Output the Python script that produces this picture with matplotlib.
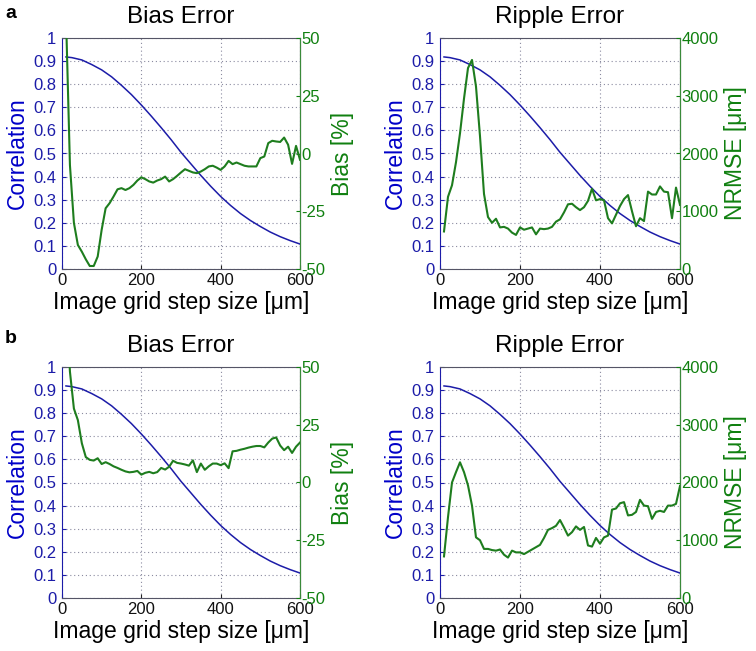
import matplotlib.pyplot as plt

plt.rcParams['font.family'] = ['Liberation Sans', 'DejaVu Sans']

BLUE = '#1c1ca8'
BLUE_TXT = '#0000c8'
GREEN = '#1e7d1e'
GREEN_TXT = '#108010'

# correlation curve (same in all four panels)
corr_x = [10, 25, 50, 75, 100, 125, 150, 175, 200, 225, 250, 275, 300,
          325, 350, 375, 400, 425, 450, 475, 500, 525, 550, 575, 600]
corr_y = [0.918, 0.915, 0.905, 0.885, 0.862, 0.832, 0.795, 0.755, 0.710,
          0.662, 0.612, 0.560, 0.505, 0.455, 0.405, 0.358, 0.314, 0.275,
          0.240, 0.210, 0.184, 0.160, 0.140, 0.123, 0.108]

step = list(range(10, 601, 10))

# a: bias [%]
bias_a = [60, -5, -30, -39.6, -42.5, -45.8, -48.7, -48.7, -44.6, -33,
          -23.7, -21.5, -18.6, -15.5, -15, -15.8, -15, -13.6, -11.7, -10.3,
          -11.1, -12.1, -12.6, -11.7, -11.1, -10, -12.1, -11.1, -9.7, -8.2,
          -6.8, -7.5, -8.2, -8.5, -7.8, -6.8, -5.6, -5.3, -6.1, -7.1,
          -5.6, -3.2, -4.6, -3.9, -4.6, -5.3, -5.6, -5.6, -5.6, -2,
          -1.3, 4.5, 5.5, 5.2, 5, 6.9, 3.8, -4.5, 3.3, -2.7]

# a: NRMSE [um]
ripple_a = [650, 1250, 1450, 1850, 2350, 2950, 3480, 3620, 3160, 2300,
            1300, 900, 800, 870, 720, 730, 700, 630, 590, 720,
            680, 700, 720, 600, 700, 690, 700, 730, 820, 860,
            980, 1120, 1130, 1070, 1020, 1070, 1180, 1390, 1190, 1210,
            1190, 880, 790, 940, 1090, 1210, 1280, 1000, 740, 880,
            830, 1340, 1290, 1290, 1430, 1340, 1330, 880, 1410, 1110]

# b: bias [%]
bias_b = [80, 48, 32, 27, 17, 11, 9.8, 9.5, 10.5, 8,
          8.8, 8, 7, 6.3, 5.5, 4.8, 4.4, 4.6, 5, 3.4,
          4.2, 4.6, 4, 4.5, 6.3, 5.6, 6.8, 9.4, 8.5, 8.2,
          7.8, 7.3, 9.6, 4.5, 8.2, 5.5, 7, 8.2, 8.2, 7.5,
          8.3, 6.2, 13.5, 13.7, 14.2, 14.6, 15.1, 15.5, 15.8, 15.8,
          15.2, 17.3, 19, 19.5, 16, 14, 15.5, 12.8, 15.5, 17.3]

# b: NRMSE [um]
ripple_b = [720, 1400, 2000, 2180, 2350, 2180, 1950, 1600, 1050, 1000,
            850, 850, 830, 820, 840, 750, 700, 820, 790, 790,
            760, 800, 840, 880, 920, 1040, 1180, 1210, 1250, 1350,
            1220, 1080, 1140, 1240, 1180, 1230, 910, 890, 1040, 940,
            1050, 1080, 1530, 1550, 1640, 1660, 1430, 1440, 1490, 1700,
            1600, 1590, 1370, 1490, 1510, 1490, 1600, 1600, 1630, 1940]

fig = plt.figure(figsize=(7.56, 6.51), dpi=100)

W, H = 756, 651


def panel(left, top, right, bottom, title, green, ylim2, ticks2, labels2, label2):
    ax = fig.add_axes([left / W, 1 - bottom / H, (right - left) / W, (bottom - top) / H])
    ax.plot(corr_x, corr_y, color=BLUE, lw=1.1, zorder=3)
    ax.set_xlim(0, 600)
    ax.set_ylim(0, 1)
    ax.set_xticks([0, 200, 400, 600])
    ax.set_yticks([i / 10 for i in range(11)])
    ax.set_yticklabels(['0', '0.1', '0.2', '0.3', '0.4', '0.5', '0.6', '0.7', '0.8', '0.9', '1'])
    ax.grid(True, linestyle=(0, (1, 2.5)), color='#8a8aa0', lw=0.8)
    ax.tick_params(axis='y', direction='in', length=3, labelsize=12, colors=BLUE, pad=4)
    ax.tick_params(axis='x', direction='in', length=3, labelsize=12, colors='#222222', pad=3)
    ax.tick_params(axis='x', labelcolor='#111111')
    ax.set_xlabel('Image grid step size [\u03bcm]', fontsize=16.5, labelpad=2)
    ax.set_ylabel('Correlation', fontsize=16.5, color=BLUE_TXT, labelpad=3)
    ax.set_title(title, fontsize=17.5, pad=11)
    ax.spines['left'].set_color(BLUE)
    ax.spines['top'].set_color('#555566')
    ax.spines['bottom'].set_color('#555566')

    ax2 = ax.twinx()
    ax2.plot(step, green, color=GREEN, lw=1.5, zorder=4)
    ax2.set_ylim(*ylim2)
    ax2.set_yticks(ticks2)
    ax2.set_yticklabels(labels2)
    ax2.tick_params(axis='y', direction='in', length=3, labelsize=12, colors=GREEN_TXT, pad=1)
    ax2.set_ylabel(label2, fontsize=16.5, color=GREEN_TXT, labelpad=4)
    ax2.spines['right'].set_color('#3a8a3a')
    ax2.spines['left'].set_visible(False)
    ax2.spines['top'].set_visible(False)
    ax2.spines['bottom'].set_visible(False)
    return ax


bias_ticks = [-50, -25, 0, 25, 50]
bias_labels = ['-50', '-25', '0', '25', '50']
nrmse_ticks = [0, 1000, 2000, 3000, 4000]
nrmse_labels = ['0', '1000', '2000', '3000', '4000']

panel(62, 38, 300, 269, 'Bias Error', bias_a, (-50, 50), bias_ticks, bias_labels, 'Bias [%]')
panel(440, 38, 680, 269, 'Ripple Error', ripple_a, (0, 4000), nrmse_ticks, nrmse_labels, 'NRMSE [\u03bcm]')
panel(62, 367, 300, 598, 'Bias Error', bias_b, (-50, 50), bias_ticks, bias_labels, 'Bias [%]')
panel(440, 367, 680, 598, 'Ripple Error', ripple_b, (0, 4000), nrmse_ticks, nrmse_labels, 'NRMSE [\u03bcm]')

fig.text(5 / W, 1 - 18 / H, 'a', fontsize=14, fontweight='bold')
fig.text(5 / W, 1 - 343 / H, 'b', fontsize=14, fontweight='bold')

fig.savefig('out.png', dpi=100)
